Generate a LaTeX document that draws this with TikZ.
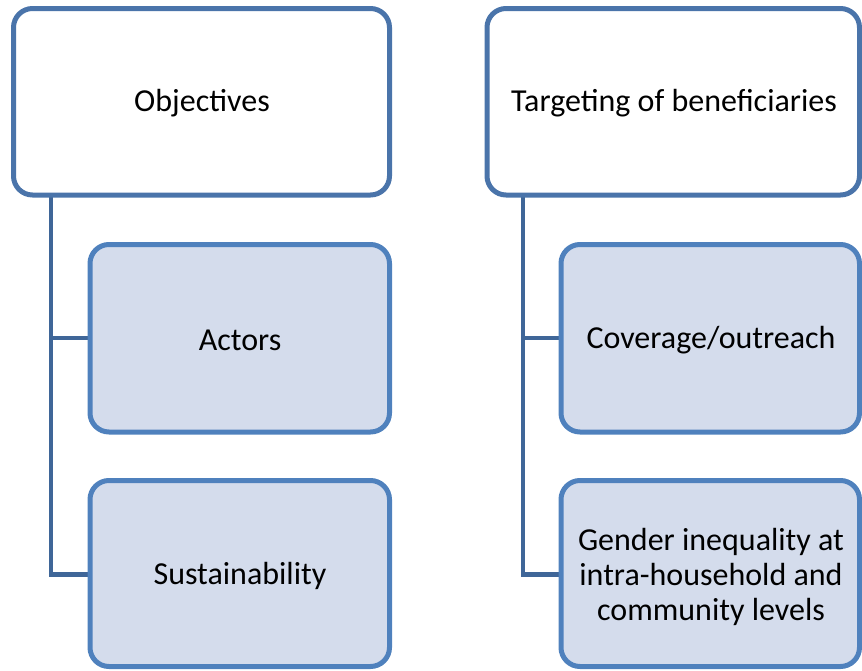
\documentclass[tikz,border=0pt]{standalone}
\usepackage{fontspec}
\setmainfont{Carlito}
\definecolor{topedge}{HTML}{4A74AA}
\definecolor{subedge}{HTML}{4F81BD}
\definecolor{subfill}{HTML}{D4DCEC}
\definecolor{linkcol}{HTML}{3F6698}
\begin{document}
\begin{tikzpicture}[x=1pt,y=-1pt,
  headbox/.style={draw=topedge,line width=5pt,fill=white,rounded corners=19pt},
  subbox/.style={draw=subedge,line width=5pt,fill=subfill,rounded corners=19pt},
  label/.style={font=\fontsize{32}{35}\selectfont,align=center,text=black},
  link/.style={draw=linkcol,line width=4.5pt}]
\useasboundingbox (0,0) rectangle (862,670);

% left column
\draw[link] (51,195) -- (51,574.5) -- (90,574.5);
\draw[link] (51,338) -- (90,338);
\draw[headbox] (13.5,8.5) rectangle (389.5,195);
\draw[subbox] (90,244.5) rectangle (389.5,432);
\draw[subbox] (90,480.5) rectangle (389.5,666.5);
\node[label] (obj) at (202,103) {Objectives};
\node[label] (act) at (240,340) {Actors};
\node[label] (sus) at (240,576) {Sustainability};

% right column
\draw[link] (523,195) -- (523,574.5) -- (561,574.5);
\draw[link] (523,338) -- (561,338);
\draw[headbox] (487,8.5) rectangle (859.5,195);
\draw[subbox] (561,244.5) rectangle (859.5,432);
\draw[subbox] (561,480.5) rectangle (859.5,666.5);
\node[label] (tgt) at (674,103) {Targeting of beneficiaries};
\node[label] (cov) at (711,340) {Coverage/outreach};
\node[label] (gen) at (711,576.5) {Gender inequality at\\intra-household and\\community levels};
\end{tikzpicture}
\end{document}
